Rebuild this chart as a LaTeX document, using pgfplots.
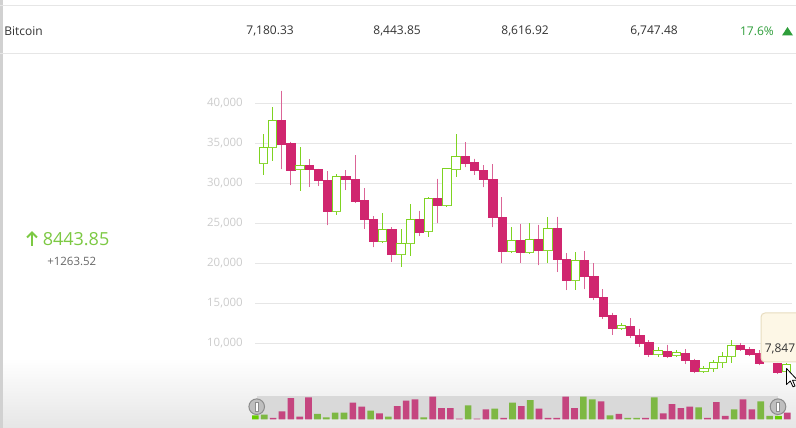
\documentclass[border=0pt]{standalone}
\usepackage{fontspec}
\setmainfont{Open Sans}
\usepackage{pgfplots}
\pgfplotsset{compat=1.18}
\usepgfplotslibrary{statistics}
\usepackage{pgfplotstable}

\definecolor{upc}{HTML}{7ED321}
\definecolor{dnc}{HTML}{D0266F}
\definecolor{dnw}{HTML}{DB6597}
\definecolor{gridc}{HTML}{E6E6E6}
\definecolor{tickc}{HTML}{CCCCCC}
\definecolor{volp}{HTML}{C5457F}
\definecolor{volg}{HTML}{7DB843}
\definecolor{volgb}{HTML}{66CC00}
\definecolor{navc}{HTML}{D9D9D9}
\definecolor{hdr}{HTML}{333333}
\definecolor{gain}{HTML}{2E9E3A}
\definecolor{bigg}{HTML}{7CC943}
\definecolor{subc}{HTML}{666666}
\definecolor{bgb}{HTML}{E6E6E6}
\definecolor{tipc}{HTML}{FDF7E6}
\definecolor{tipb}{HTML}{E8DDC0}

% candles (prices in thousands): index, open, high, low, close
\pgfplotstableread{
x o h l c
1 32.50 36.16 31.00 34.50
2 34.50 39.50 32.80 37.90
3 37.90 41.575 31.75 34.90
4 35.00 35.20 29.75 31.66
5 31.75 34.58 29.00 32.25
6 32.25 33.00 29.58 31.75
7 31.75 31.83 29.66 30.33
8 30.33 31.50 24.75 26.50
9 26.50 31.16 26.00 30.90
10 30.90 31.66 29.16 30.50
11 30.50 33.50 27.58 27.75
12 27.90 29.40 24.33 25.50
13 25.50 25.90 22.00 22.75
14 22.75 26.33 22.50 24.25
15 24.25 24.50 20.16 21.16
16 21.16 24.33 19.50 22.50
17 22.50 27.40 20.90 25.50
18 25.50 26.58 23.40 23.90
19 24.00 28.25 23.25 28.08
20 28.08 30.58 25.00 27.25
21 27.25 31.90 27.10 31.83
22 31.75 36.16 30.83 33.41
23 33.41 35.16 32.00 32.50
24 32.58 33.08 31.08 31.58
25 31.58 32.25 29.50 30.50
26 30.50 32.41 24.50 25.75
27 25.75 28.25 20.00 21.50
28 21.50 24.58 21.33 22.83
29 22.83 24.91 20.08 21.33
30 21.33 25.00 21.25 23.00
31 23.00 24.83 19.75 21.66
32 21.66 25.75 20.08 24.41
33 24.41 25.83 18.91 20.50
34 20.50 21.25 16.66 17.91
35 17.91 21.41 16.66 20.33
36 20.33 21.50 16.75 18.33
37 18.33 20.00 15.41 15.75
38 15.75 16.75 13.08 13.41
39 13.50 13.83 11.08 11.83
40 11.83 12.50 11.66 12.25
41 12.08 13.16 10.66 11.00
42 11.00 11.83 9.58 10.00
43 10.08 10.41 8.33 8.66
44 8.66 9.50 8.25 9.08
45 9.00 9.83 8.16 8.41
46 8.50 9.16 8.33 8.83
47 8.75 9.25 7.41 7.91
48 7.83 8.08 6.25 6.50
49 6.50 7.16 6.33 6.91
50 6.83 7.91 6.41 7.58
51 7.58 8.91 6.91 8.33
52 8.33 10.41 7.58 9.75
53 9.75 10.00 9.08 9.25
54 9.25 9.50 8.41 8.66
55 8.75 9.16 7.25 7.50
56 8.00 8.20 7.80 7.80
57 7.50 7.60 6.16 6.33
58 6.45 7.60 6.20 7.40
}\candles

% navigator volume bars
\pgfplotstableread{
x v
3 4
4 24
5 64
6 8
7 66
12 50
13 38
15 18
17 40
18 56
19 60
21 68
22 34
23 34
24 2
26 2
27 30
29 4
31 40
33 32
34 4
35 4
36 68
37 34
40 54
42 16
45 4
47 18
48 46
49 34
50 38
52 4
53 52
54 10
56 60
57 30
61 20
}\volred
\pgfplotstableread{
x v
2 14
8 16
9 6
10 20
11 20
14 26
16 8
20 6
25 42
28 32
30 50
32 58
38 68
39 60
41 12
43 4
44 4
46 66
51 36
55 30
58 54
59 10
}\volgreen
\pgfplotstableread{
x v
1 12
60 10
}\volbright

\pgfplotsset{
  upcandle/.style={draw=upc, fill=white, line width=0.75pt,
    boxplot/every whisker/.style={draw=upc}},
  dncandle/.style={draw=dnc, fill=dnc, line width=0.5pt,
    boxplot/every whisker/.style={draw=dnw, line width=0.75pt}},
}

\newcommand\hdrfont{\fontsize{9}{11}\selectfont}

\begin{document}
\begin{tikzpicture}
\useasboundingbox (0,0) rectangle (597pt,321pt);

% background, in pixel units (y downwards)
\begin{scope}[x=0.75pt, y=-0.75pt, shift={(0,321pt)}]
  \fill[white] (0,0) rectangle (796,428);
  \shade[top color=white, bottom color=bgb] (0,358) rectangle (796,428);
  \fill[black!18] (0,0) rectangle (2.5,428);
  \draw[gridc, line width=0.75pt] (0,6) -- (796,6);
  \draw[gridc, line width=0.75pt] (0,53.3) -- (796,53.3);
  \node[anchor=west, text=hdr, font=\hdrfont, inner sep=0pt] at (4,31) {Bitcoin};
  \node[anchor=east, text=hdr, font=\hdrfont, inner sep=0pt] at (294,31) {7,180.33};
  \node[anchor=east, text=hdr, font=\hdrfont, inner sep=0pt] at (421,31) {8,443.85};
  \node[anchor=east, text=hdr, font=\hdrfont, inner sep=0pt] at (549,31) {8,616.92};
  \node[anchor=east, text=hdr, font=\hdrfont, inner sep=0pt] at (678,31) {6,747.48};
  \node[anchor=east, text=gain, font=\hdrfont, inner sep=0pt] at (774,31) {17.6\%};
  \fill[gain] (782,35.5) -- (793,35.5) -- (787.5,27) -- cycle;
  % current price
  \draw[bigg, line width=1.5] (32,246) -- (32,232.5);
  \draw[bigg, line width=1.5] (27,237.5) -- (32,232.5) -- (37,237.5);
  \node[anchor=west, text=bigg, font=\fontsize{13.5}{16}\selectfont, inner sep=0pt] at (42.5,239.5) {8443.85};
  \node[anchor=west, text=subc, font=\fontsize{8.6}{10}\selectfont, inner sep=0pt] at (47,261.7) {+1263.52};
\end{scope}

% candlestick chart
\begin{axis}[
  at={(191.25pt,33.5pt)}, anchor=south west,
  scale only axis, width=402.75pt, height=228pt,
  xmin=0.096, xmax=58.59, ymin=5, ymax=43,
  axis line style={draw=none},
  xtick=\empty,
  ytick={10,15,20,25,30,35,40},
  yticklabels={{10,000},{15,000},{20,000},{25,000},{30,000},{35,000},{40,000}},
  major tick length=0pt,
  ymajorgrids, grid style={gridc, line width=0.75pt},
  yticklabel style={font=\fontsize{8.6}{10}\selectfont, text=tickc,
    anchor=east, inner sep=0pt, xshift=-9pt},
  boxplot/draw direction=y,
  boxplot/box extend=0.9,
  boxplot/whisker extend=0,
  boxplot/every median/.style={draw=none},
  clip=false,
]
\pgfplotstablegetrowsof{\candles}
\pgfmathtruncatemacro\lastrow{\pgfplotsretval-1}
\pgfplotsinvokeforeach{0,...,\lastrow}{
  \pgfplotstablegetelem{#1}{x}\of\candles \let\cx\pgfplotsretval
  \pgfplotstablegetelem{#1}{o}\of\candles \let\co\pgfplotsretval
  \pgfplotstablegetelem{#1}{h}\of\candles \let\chi\pgfplotsretval
  \pgfplotstablegetelem{#1}{l}\of\candles \let\clo\pgfplotsretval
  \pgfplotstablegetelem{#1}{c}\of\candles \let\cc\pgfplotsretval
  \ifdim\cc pt>\co pt\relax
    \let\blo\co \let\bhi\cc \def\candlestyle{upcandle}
  \else
    \let\blo\cc \let\bhi\co \def\candlestyle{dncandle}
  \fi
  \edef\doplot{\noexpand\addplot[\candlestyle, boxplot prepared={draw position=\cx,
    lower whisker=\clo, lower quartile=\blo, median=\blo,
    upper quartile=\bhi, upper whisker=\chi}] coordinates {};}
  \doplot
}
\end{axis}

% navigator band
\begin{scope}[x=0.75pt, y=-0.75pt, shift={(0,321pt)}]
  \fill[navc] (257,396) rectangle (778,419.3);
\end{scope}

% navigator volume
\begin{axis}[
  at={(188.2pt,6.5pt)}, anchor=south west,
  scale only axis, width=405.6pt, height=17pt,
  xmin=0.5, xmax=61.5, ymin=0, ymax=68,
  hide axis,
]
\addplot[ybar, bar width=0.75, bar shift=0pt, draw=none, fill=volp] table[x=x, y=v] {\volred};
\addplot[ybar, bar width=0.75, bar shift=0pt, draw=none, fill=volg] table[x=x, y=v] {\volgreen};
\addplot[ybar, bar width=0.75, bar shift=0pt, draw=none, fill=volgb] table[x=x, y=v] {\volbright};
\end{axis}

% handles, tooltip, pointer
\begin{scope}[x=0.75pt, y=-0.75pt, shift={(0,321pt)}]
  \foreach \hx in {256.7,778} {
    \draw[fill=black!25, draw=black!45, line width=0.75pt] (\hx,406.7) circle (7.8);
    \draw[fill=white, draw=black!45, line width=0.5pt] (\hx-1.3,402.2) rectangle (\hx+1.3,411.2);
  }
  \draw[fill=tipc, draw=tipb, line width=0.75pt, rounded corners=3] (761,313) rectangle (806,362);
  \node[anchor=west, text=hdr, font=\hdrfont, inner sep=0pt] at (764.5,348.5) {7,847};
  \draw[fill=white, draw=black, line width=0.6pt, line join=round]
    (786.5,368.5) -- (786.5,384.5) -- (790.3,381) -- (793,386.8) -- (795,386) -- (792.5,380.2) -- (797.5,380.2) -- cycle;
\end{scope}
\end{tikzpicture}
\end{document}
